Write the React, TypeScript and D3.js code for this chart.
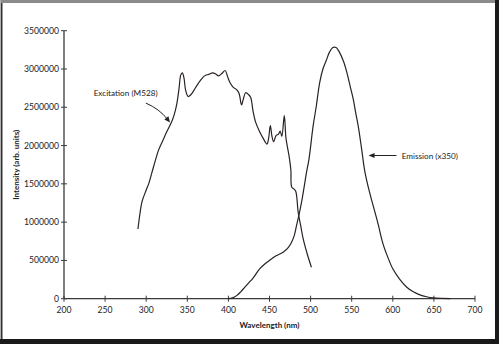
import React from "react";
import * as d3 from "d3";

const excWavelength = [290,292,295,300,303,307,311,315,320,325,331,334,337,340,342,344,346,348,351,354,358,362,366,371,376,381,385,388,392,396,399,402,406,410,413,416,418,421,424,427,430,433,438,442,447,449,451,453,455,458,461,463,465,468,470,472,474,476,477,480,482,485,488,491,496,501];
const excValue = [0.91,1.08,1.27,1.42,1.50,1.65,1.80,1.94,2.06,2.18,2.31,2.40,2.53,2.75,2.92,2.95,2.88,2.72,2.64,2.66,2.72,2.79,2.85,2.91,2.93,2.95,2.93,2.91,2.94,2.98,2.90,2.82,2.76,2.73,2.68,2.53,2.60,2.69,2.67,2.63,2.45,2.31,2.18,2.10,2.02,2.10,2.26,2.12,2.05,2.13,2.15,2.19,2.12,2.39,2.10,1.97,1.85,1.68,1.46,1.43,1.40,1.12,0.95,0.78,0.58,0.41].map(v => v * 1e6);

const emWavelength = [400,405,410,415,420,425,430,438,445,451,458,467,473,477,480,483,486,489,492,495,498,503,507,511,515,519,523,527,531,535,540,544,548,552,555,558,562,566,571,576,582,588,594,600,608,617,625,633,641,649,660,670];
const emValue = [0,0.01,0.04,0.09,0.15,0.21,0.27,0.39,0.46,0.51,0.56,0.61,0.67,0.74,0.82,0.96,1.10,1.26,1.45,1.65,1.82,2.25,2.52,2.82,3.00,3.11,3.22,3.28,3.28,3.22,3.10,2.96,2.78,2.60,2.42,2.25,1.96,1.66,1.42,1.22,0.98,0.72,0.54,0.39,0.26,0.15,0.09,0.05,0.025,0.01,0.003,0].map(v => v * 1e6);

const xTicks = [200,250,300,350,400,450,500,550,600,650,700];
const yTicks = [0,500000,1000000,1500000,2000000,2500000,3000000,3500000];

const xLabel = "Wavelength (nm)";
const yLabel = "Intensity (arb. units)";
const excLabel = "Excitation (M528)";
const emLabel = "Emission (x350)";

export default function App() {
  const W = 499, H = 344;
  const x = d3.scaleLinear().domain([200, 700]).range([64, 475]);
  const y = d3.scaleLinear().domain([0, 3500000]).range([298.7, 30.7]);
  const line = d3.line<[number, number]>().x(d => x(d[0])).y(d => y(d[1])).curve(d3.curveCatmullRom.alpha(0.5));
  const exc = excWavelength.map((w, i) => [w, excValue[i]] as [number, number]);
  const em = emWavelength.map((w, i) => [w, emValue[i]] as [number, number]);
  const font = "Lato, 'Open Sans', sans-serif";
  const axisColor = "#3a3a3a";
  const curveColor = "#2a2222";

  const ea0: [number, number] = [x(299.5), y(2555000)];
  const ea1: [number, number] = [x(329), y(2300000)];
  const ctrl: [number, number] = [x(316), y(2480000)];
  const angE = Math.atan2(ea1[1] - ctrl[1], ea1[0] - ctrl[0]);
  const head = (tip: [number, number], ang: number) => {
    const L = 6, Wd = 2.6;
    const bx = tip[0] - L * Math.cos(ang), by = tip[1] - L * Math.sin(ang);
    const px = -Math.sin(ang) * Wd, py = Math.cos(ang) * Wd;
    return `M${tip[0]},${tip[1]}L${bx + px},${by + py}L${bx - px},${by - py}Z`;
  };
  const emA0: [number, number] = [x(604.5), y(1870000)];
  const emA1: [number, number] = [x(570.5), y(1870000)];

  return (
    <svg width={W} height={H} style={{ position: "fixed", left: 0, top: 0, background: "#fff" }}>
      <rect x={0} y={0} width={W} height={H} fill="#fff" />
      <rect x={0} y={0} width={W} height={3} fill="#8a8a8a" />
      <rect x={0} y={0} width={1} height={H} fill="#b0b0b0" />
      <rect x={1} y={3} width={1.5} height={H} fill="#333" />
      <rect x={495} y={0} width={4} height={H} fill="#1a1a1a" />
      <rect x={0} y={339} width={W} height={5} fill="#1a1a1a" />

      <line x1={x(200)} x2={x(700)} y1={y(0)} y2={y(0)} stroke={axisColor} strokeWidth={1.3} />
      <line x1={x(200)} x2={x(200)} y1={y(0)} y2={y(3500000)} stroke={axisColor} strokeWidth={1.3} />
      {xTicks.map(t => (
        <g key={"x" + t}>
          <line x1={x(t)} x2={x(t)} y1={y(0) - 3} y2={y(0) + 3} stroke={axisColor} strokeWidth={1} />
          <text x={x(t)} y={y(0) + 14} textAnchor="middle" fontFamily={font} fontSize={8.6} fill="#222">{t}</text>
        </g>
      ))}
      {yTicks.map(t => (
        <g key={"y" + t}>
          <line x1={x(200) - 3} x2={x(200) + 3} y1={y(t)} y2={y(t)} stroke={axisColor} strokeWidth={1} />
          <text x={x(200) - 5} y={y(t) + 3} textAnchor="end" fontFamily={font} fontSize={8.6} fill="#222">{t}</text>
        </g>
      ))}
      <text x={(x(200) + x(700)) / 2} y={328} textAnchor="middle" fontFamily={font} fontSize={8} fontWeight="bold" fill="#222">{xLabel}</text>
      <text transform={`translate(19,${(y(0) + y(3500000)) / 2}) rotate(-90)`} textAnchor="middle" fontFamily={font} fontSize={8} fontWeight="bold" fill="#222">{yLabel}</text>

      <path d={line(exc) ?? ""} fill="none" stroke={curveColor} strokeWidth={1.2} strokeLinejoin="round" />
      <path d={line(em) ?? ""} fill="none" stroke={curveColor} strokeWidth={1.2} strokeLinejoin="round" />

      <text x={x(275)} y={y(2680000) + 3} textAnchor="middle" fontFamily={font} fontSize={8.2} fill="#222">{excLabel}</text>
      <path d={`M${ea0[0]},${ea0[1]}Q${ctrl[0]},${ctrl[1]} ${ea1[0] - 4 * Math.cos(angE)},${ea1[1] - 4 * Math.sin(angE)}`} fill="none" stroke="#222" strokeWidth={1} />
      <path d={head(ea1, angE)} fill="#222" />
      <text x={x(610.8)} y={y(1870000) + 3} textAnchor="start" fontFamily={font} fontSize={8.2} fill="#222">{emLabel}</text>
      <line x1={emA0[0]} x2={emA1[0] + 4} y1={emA0[1]} y2={emA1[1]} stroke="#222" strokeWidth={1} />
      <path d={head(emA1, Math.PI)} fill="#222" />
    </svg>
  );
}
